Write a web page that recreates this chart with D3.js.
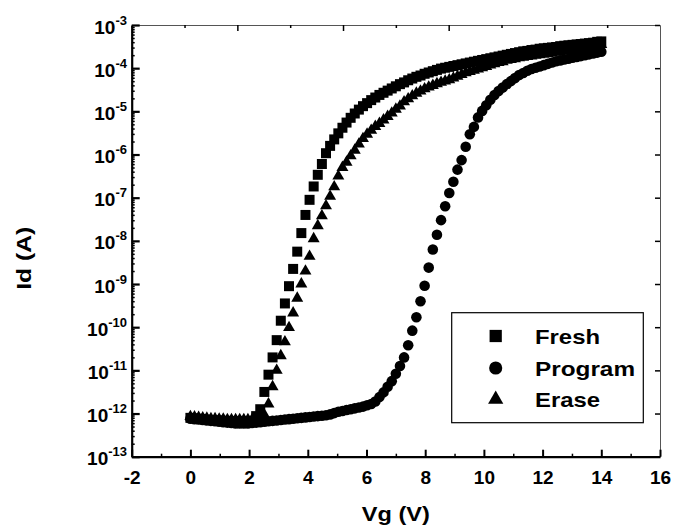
<!DOCTYPE html>
<html>
<head>
<meta charset="utf-8">
<script src="https://cdn.jsdelivr.net/npm/d3@7"></script>
<style>
  body { margin: 0; background: #fff; }
  text { font-family: "Liberation Sans", Arial, sans-serif; font-weight: bold; fill: #000; }
</style>
</head>
<body>
<script>
// gate voltage sweep (V)
const vg = [
  0.00, 0.14, 0.28, 0.42, 0.56, 0.70, 0.84, 0.98, 1.12, 1.26,
  1.40, 1.54, 1.68, 1.82, 1.96, 2.10, 2.24, 2.38, 2.52, 2.66,
  2.80, 2.94, 3.08, 3.22, 3.36, 3.50, 3.64, 3.78, 3.92, 4.06,
  4.20, 4.34, 4.48, 4.62, 4.76, 4.90, 5.04, 5.18, 5.32, 5.46,
  5.60, 5.74, 5.88, 6.02, 6.16, 6.30, 6.44, 6.58, 6.72, 6.86,
  7.00, 7.14, 7.28, 7.42, 7.56, 7.70, 7.84, 7.98, 8.12, 8.26,
  8.40, 8.54, 8.68, 8.82, 8.96, 9.10, 9.24, 9.38, 9.52, 9.66,
  9.80, 9.94, 10.08, 10.22, 10.36, 10.50, 10.64, 10.78, 10.92, 11.06,
  11.20, 11.34, 11.48, 11.62, 11.76, 11.90, 12.04, 12.18, 12.32, 12.46,
  12.60, 12.74, 12.88, 13.02, 13.16, 13.30, 13.44, 13.58, 13.72, 13.86,
  14.00
]

// log10 of drain current Id (A), one value per vg point
const freshLogId = [
  -12.10, -12.11, -12.12, -12.13, -12.14, -12.15, -12.16, -12.16, -12.17, -12.17,
  -12.18, -12.18, -12.18, -12.18, -12.18, -12.17, -12.06, -11.90, -11.50, -11.10,
  -10.70, -10.30, -9.85, -9.45, -9.05, -8.65, -8.25, -7.82, -7.40, -7.05,
  -6.74, -6.47, -6.22, -5.97, -5.80, -5.65, -5.51, -5.38, -5.26, -5.15,
  -5.05, -4.96, -4.88, -4.81, -4.74, -4.68, -4.62, -4.57, -4.52, -4.47,
  -4.42, -4.37, -4.33, -4.28, -4.24, -4.20, -4.17, -4.13, -4.10, -4.07,
  -4.04, -4.01, -3.99, -3.97, -3.95, -3.93, -3.91, -3.89, -3.87, -3.85,
  -3.83, -3.81, -3.79, -3.77, -3.75, -3.73, -3.71, -3.69, -3.67, -3.65,
  -3.63, -3.61, -3.60, -3.58, -3.57, -3.55, -3.54, -3.53, -3.52, -3.51,
  -3.49, -3.48, -3.47, -3.46, -3.45, -3.44, -3.43, -3.42, -3.41, -3.39,
  -3.38
]

const programLogId = [
  -12.12, -12.13, -12.14, -12.15, -12.16, -12.17, -12.18, -12.19, -12.20, -12.21,
  -12.22, -12.23, -12.23, -12.23, -12.23, -12.22, -12.21, -12.20, -12.19, -12.18,
  -12.17, -12.16, -12.15, -12.14, -12.13, -12.12, -12.11, -12.10, -12.09, -12.08,
  -12.07, -12.06, -12.05, -12.04, -12.02, -11.99, -11.96, -11.94, -11.92, -11.90,
  -11.88, -11.86, -11.84, -11.81, -11.78, -11.72, -11.62, -11.51, -11.38, -11.25,
  -11.08, -10.90, -10.70, -10.42, -10.08, -9.77, -9.40, -9.04, -8.62, -8.20,
  -7.86, -7.52, -7.20, -6.89, -6.63, -6.35, -6.13, -5.82, -5.53, -5.36,
  -5.14, -4.99, -4.86, -4.73, -4.62, -4.53, -4.45, -4.37, -4.30, -4.23,
  -4.16, -4.11, -4.06, -4.02, -3.99, -3.96, -3.93, -3.90, -3.87, -3.84,
  -3.82, -3.80, -3.78, -3.76, -3.74, -3.72, -3.70, -3.68, -3.66, -3.64,
  -3.62
]

const eraseLogId = [
  -12.07, -12.08, -12.09, -12.10, -12.11, -12.12, -12.12, -12.13, -12.13, -12.14,
  -12.14, -12.14, -12.14, -12.14, -12.14, -12.14, -12.13, -12.11, -12.03, -11.78,
  -11.38, -11.00, -10.66, -10.34, -10.01, -9.67, -9.33, -9.00, -8.70, -8.36,
  -7.95, -7.65, -7.42, -7.19, -6.97, -6.75, -6.50, -6.30, -6.18, -6.03,
  -5.90, -5.76, -5.63, -5.53, -5.44, -5.35, -5.28, -5.20, -5.12, -5.04,
  -4.95, -4.88, -4.78, -4.71, -4.64, -4.58, -4.53, -4.48, -4.44, -4.40,
  -4.36, -4.33, -4.30, -4.27, -4.23, -4.19, -4.15, -4.11, -4.08, -4.05,
  -4.02, -3.99, -3.96, -3.93, -3.90, -3.87, -3.85, -3.82, -3.80, -3.78,
  -3.76, -3.75, -3.73, -3.72, -3.70, -3.69, -3.68, -3.66, -3.65, -3.63,
  -3.62, -3.60, -3.59, -3.58, -3.56, -3.55, -3.53, -3.51, -3.49, -3.47,
  -3.45
]

const seriesNames = ['Fresh', 'Program', 'Erase']
const xTicks = [-2, 0, 2, 4, 6, 8, 10, 12, 14, 16]
const xMinorTicks = [-1, 1, 3, 5, 7, 9, 11, 13, 15]
const yTickExps = [-13, -12, -11, -10, -9, -8, -7, -6, -5, -4, -3]

const w = 675
const h = 527
const plotLeft = 131.7
const plotRight = 660
const plotTop = 25
const plotBottom = 456.7

const svg = d3.select('body')
  .append('svg')
  .attr('width', w)
  .attr('height', h)

const x = d3.scaleLinear().domain([-2, 16]).range([plotLeft, plotRight])
const y = d3.scaleLog().domain([1e-13, 1e-3]).range([plotBottom, plotTop])
// top frame carries its own evenly spaced ticks
const xTop = d3.scaleLinear().domain([0, 10]).range([plotLeft, plotRight])

const yMajor = yTickExps.map(e => Math.pow(10, e))
const yMinor = []
yTickExps.slice(0, -1).forEach(e => {
  for (let m = 2; m < 10; m++) yMinor.push(m * Math.pow(10, e))
})

// frame: top and right thin
svg.append('g')
  .attr('transform', `translate(0,${plotTop})`)
  .call(d3.axisTop(xTop).tickValues([2, 4, 6, 8]).tickSizeInner(-6).tickSizeOuter(0).tickFormat(''))
  .call(g => g.select('.domain').attr('stroke', '#555').attr('stroke-width', 1))
  .call(g => g.selectAll('.tick line').attr('stroke-width', 1.5))
svg.append('g')
  .attr('transform', `translate(0,${plotTop})`)
  .call(d3.axisTop(xTop).tickValues([1, 3, 5, 7, 9]).tickSizeInner(-3).tickSizeOuter(0).tickFormat(''))
  .call(g => g.select('.domain').remove())
  .call(g => g.selectAll('.tick line').attr('stroke-width', 1.5))

svg.append('g')
  .attr('transform', `translate(${plotRight},0)`)
  .call(d3.axisRight(y).tickValues(yMajor).tickSizeInner(-5).tickSizeOuter(0).tickFormat(''))
  .call(g => g.select('.domain').attr('stroke', '#555').attr('stroke-width', 1))
  .call(g => g.selectAll('.tick line').attr('stroke-width', 1.5))

// bottom axis
svg.append('g')
  .attr('transform', `translate(0,${plotBottom})`)
  .call(d3.axisBottom(x).tickValues(xMinorTicks).tickSizeInner(-3).tickSizeOuter(0).tickFormat(''))
  .call(g => g.select('.domain').remove())
  .call(g => g.selectAll('.tick line').attr('stroke-width', 1.5))

svg.append('g')
  .attr('transform', `translate(0,${plotBottom})`)
  .call(d3.axisBottom(x).tickValues(xTicks).tickSizeInner(-7).tickSizeOuter(0).tickFormat(d => String(d)))
  .call(g => g.select('.domain').attr('stroke-width', 2.2))
  .call(g => g.selectAll('.tick line').attr('stroke-width', 2))
  .call(g => g.selectAll('.tick text')
    .attr('y', 27)
    .attr('dy', 0)
    .style('font-size', '19px'))

// left axis
svg.append('g')
  .attr('transform', `translate(${plotLeft},0)`)
  .call(d3.axisLeft(y).tickValues(yMinor).tickSizeInner(-3).tickSizeOuter(0).tickFormat(''))
  .call(g => g.select('.domain').remove())
  .call(g => g.selectAll('.tick line').attr('stroke-width', 1.5))

svg.append('g')
  .attr('transform', `translate(${plotLeft},0)`)
  .call(d3.axisLeft(y).tickValues(yMajor).tickSizeInner(-8).tickSizeOuter(0).tickFormat(''))
  .call(g => g.select('.domain').attr('stroke-width', 2.2))
  .call(g => g.selectAll('.tick line').attr('stroke-width', 2.2))

const yLabels = svg.append('g')
  .selectAll('text')
  .data(yTickExps)
  .enter()
  .append('text')
  .attr('x', 127)
  .attr('y', d => y(Math.pow(10, d)) + 8.5)
  .attr('text-anchor', 'end')
yLabels.append('tspan').style('font-size', '19px').text('10')
yLabels.append('tspan').style('font-size', '13px').attr('dy', -9).text(d => String(d))

// data markers
const symbols = [d3.symbolSquare, d3.symbolCircle, d3.symbolTriangle]
const sizes = [100, 88, 62]
const seriesLogs = [freshLogId, programLogId, eraseLogId]

seriesLogs.forEach((logs, s) => {
  const pts = vg.map((v, i) => [v, Math.pow(10, logs[i])])
  svg.append('g')
    .selectAll('path')
    .data(pts)
    .enter()
    .append('path')
    .attr('transform', d => `translate(${x(d[0])},${y(d[1])})`)
    .attr('d', d3.symbol().type(symbols[s]).size(sizes[s]))
    .attr('fill', '#000')
})

// legend
const legend = svg.append('g')
legend.append('rect')
  .attr('x', 451.7)
  .attr('y', 312.7)
  .attr('width', 191.6)
  .attr('height', 110)
  .attr('fill', '#fff')
  .attr('stroke', '#000')
  .attr('stroke-width', 1.2)

const legendRows = [336, 368, 399.3]
const legendSizes = [150, 135, 100]
const legendLens = [65, 100, 65]
seriesNames.forEach((name, i) => {
  legend.append('path')
    .attr('transform', `translate(495.7,${legendRows[i]})`)
    .attr('d', d3.symbol().type(symbols[i]).size(legendSizes[i]))
    .attr('fill', '#000')
  legend.append('text')
    .attr('x', 535)
    .attr('y', legendRows[i] + 7.5)
    .attr('textLength', legendLens[i])
    .attr('lengthAdjust', 'spacingAndGlyphs')
    .style('font-size', '21px')
    .text(name)
})

// axis titles
svg.append('text')
  .attr('x', (plotLeft + plotRight) / 2)
  .attr('y', 521)
  .attr('text-anchor', 'middle')
  .attr('textLength', 68)
  .attr('lengthAdjust', 'spacingAndGlyphs')
  .style('font-size', '21px')
  .text('Vg (V)')

svg.append('text')
  .attr('transform', 'translate(31,258.3) rotate(-90)')
  .attr('text-anchor', 'middle')
  .attr('textLength', 63)
  .attr('lengthAdjust', 'spacingAndGlyphs')
  .style('font-size', '21px')
  .text('Id (A)')
</script>
</body>
</html>
